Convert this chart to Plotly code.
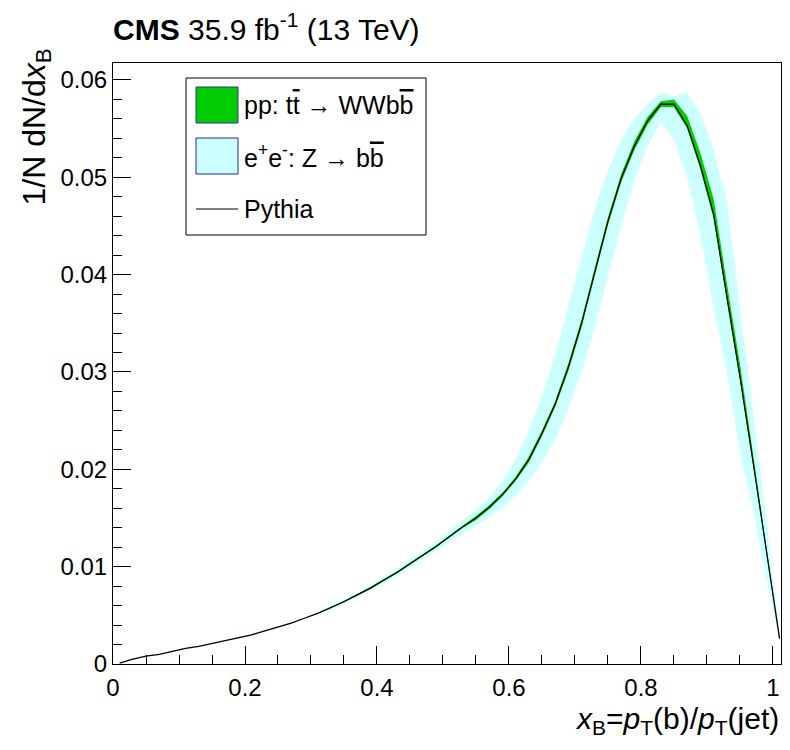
import plotly.graph_objects as go

# bin centres of x_B
x_b = [0.01, 0.03, 0.05, 0.07, 0.09, 0.11, 0.13, 0.15, 0.17, 0.19,
       0.21, 0.23, 0.25, 0.27, 0.29, 0.31, 0.33, 0.35, 0.37, 0.39,
       0.41, 0.43, 0.45, 0.47, 0.49, 0.51, 0.53, 0.55, 0.57, 0.59,
       0.61, 0.63, 0.65, 0.67, 0.69, 0.71, 0.73, 0.75, 0.77, 0.79,
       0.81, 0.83, 0.85, 0.87, 0.89, 0.91, 0.93, 0.95, 0.97, 0.99, 1.01]

# Pythia central curve
pythia = [0.0001, 0.0005, 0.0008, 0.0010, 0.0013, 0.0016, 0.0018, 0.0021, 0.0024, 0.0027,
          0.0030, 0.0034, 0.0038, 0.0042, 0.0047, 0.0052, 0.0058, 0.0064, 0.0071, 0.0078,
          0.0086, 0.0094, 0.0103, 0.0112, 0.0121, 0.0131, 0.0141, 0.0150, 0.0161, 0.0174,
          0.0190, 0.0210, 0.0237, 0.0267, 0.0305, 0.0350, 0.0403, 0.0455, 0.0499, 0.0532,
          0.0558, 0.0575, 0.0575, 0.0553, 0.0512, 0.0462, 0.0378, 0.0295, 0.0207, 0.0117, 0.0026]

# pp: ttbar -> WWbb band (low / high edges)
pp_lo = [0.0001, 0.0005, 0.0008, 0.0010, 0.0013, 0.0016, 0.0018, 0.0021, 0.0024, 0.0027,
         0.0030, 0.0034, 0.0038, 0.0042, 0.0047, 0.0052, 0.0058, 0.0064, 0.0070, 0.0077,
         0.0085, 0.0093, 0.0102, 0.0111, 0.0120, 0.0130, 0.0140, 0.0148, 0.0159, 0.0172,
         0.0188, 0.0207, 0.0234, 0.0264, 0.0301, 0.0346, 0.0399, 0.0451, 0.0495, 0.0528,
         0.0554, 0.0572, 0.0572, 0.0550, 0.0508, 0.0458, 0.0374, 0.0292, 0.0204, 0.0115, 0.0025]
pp_hi = [0.0001, 0.0005, 0.0008, 0.0010, 0.0013, 0.0016, 0.0018, 0.0021, 0.0024, 0.0027,
         0.0030, 0.0034, 0.0038, 0.0042, 0.0047, 0.0052, 0.0058, 0.0064, 0.0072, 0.0079,
         0.0087, 0.0095, 0.0104, 0.0113, 0.0122, 0.0132, 0.0142, 0.0152, 0.0163, 0.0176,
         0.0192, 0.0213, 0.0240, 0.0270, 0.0309, 0.0354, 0.0407, 0.0459, 0.0503, 0.0537,
         0.0562, 0.0578, 0.0580, 0.0563, 0.0525, 0.0478, 0.0392, 0.0308, 0.0215, 0.0121, 0.0027]

# e+e-: Z -> bb band (low / high edges)
ee_lo = [0.0001, 0.0005, 0.0008, 0.0010, 0.0013, 0.0016, 0.0018, 0.0021, 0.0024, 0.0026,
         0.0029, 0.0033, 0.0037, 0.0041, 0.0046, 0.0051, 0.0056, 0.0062, 0.0069, 0.0076,
         0.0083, 0.0091, 0.0099, 0.0108, 0.0116, 0.0125, 0.0134, 0.0142, 0.0151, 0.0160,
         0.0173, 0.0188, 0.0207, 0.0231, 0.0262, 0.0300, 0.0345, 0.0398, 0.0450, 0.0497,
         0.0532, 0.0557, 0.0538, 0.0500, 0.0440, 0.0366, 0.0300, 0.0219, 0.0157, 0.0088, 0.0025]
ee_hi = [0.0001, 0.0005, 0.0008, 0.0010, 0.0013, 0.0016, 0.0018, 0.0021, 0.0024, 0.0028,
         0.0031, 0.0035, 0.0039, 0.0043, 0.0048, 0.0053, 0.0060, 0.0066, 0.0073, 0.0080,
         0.0089, 0.0097, 0.0107, 0.0116, 0.0126, 0.0137, 0.0148, 0.0158, 0.0171, 0.0188,
         0.0210, 0.0240, 0.0275, 0.0318, 0.0368, 0.0420, 0.0468, 0.0507, 0.0538, 0.0560,
         0.0575, 0.0587, 0.0583, 0.0587, 0.0566, 0.0528, 0.0477, 0.0367, 0.0257, 0.0150, 0.0029]

x_tickvals = [0, 0.2, 0.4, 0.6, 0.8, 1.0]
x_ticktext = ["0", "0.2", "0.4", "0.6", "0.8", "1"]
y_tickvals = [0, 0.01, 0.02, 0.03, 0.04, 0.05, 0.06]
y_ticktext = ["0", "0.01", "0.02", "0.03", "0.04", "0.05", "0.06"]

legend_labels = [
    'pp: t<span style="text-decoration:overline">t</span> \u2192 WWb<span style="text-decoration:overline">b</span>',
    'e<sup>+</sup>e<sup>-</sup>: Z \u2192 b<span style="text-decoration:overline">b</span>',
    'Pythia',
]

GREEN = "#00cc00"
CYAN = "#ccffff"
FONT = "Liberation Sans, Arial, sans-serif"

fig = go.Figure()
fig.add_trace(go.Scatter(
    x=x_b + x_b[::-1], y=ee_hi + ee_lo[::-1], fill="toself",
    fillcolor=CYAN, line=dict(width=0, color=CYAN), mode="lines",
    hoverinfo="skip", showlegend=False))
fig.add_trace(go.Scatter(
    x=x_b + x_b[::-1], y=pp_hi + pp_lo[::-1], fill="toself",
    fillcolor=GREEN, line=dict(width=0, color=GREEN), mode="lines",
    hoverinfo="skip", showlegend=False))
fig.add_trace(go.Scatter(
    x=x_b, y=pythia, mode="lines", line=dict(color="black", width=1.3),
    showlegend=False))

axis_common = dict(
    showline=True, mirror=True, linecolor="black", linewidth=1,
    ticks="inside", tickcolor="black", tickwidth=1, ticklen=18,
    showgrid=False, zeroline=False, automargin=False,
    tickfont=dict(size=24, color="black", family=FONT),
)

# page is shown with an 8px body margin; keep the page free of scrollbars
OFF = 8
W, H = 790 - 2 * OFF, 730
L, R, T, B = 105, 1, 55, 74
pw = W - L - R
ph = H - T - B

# keep x=1 at the same place as the reference while the frame ends 2px earlier
x_max = 1.0167 * pw / 671.0

fig.update_xaxes(range=[0, x_max], tickmode="array", tickvals=x_tickvals,
                 ticktext=x_ticktext,
                 minor=dict(tickmode="linear", tick0=0, dtick=0.05, ticks="inside",
                            ticklen=9, tickcolor="black", tickwidth=1, showgrid=False),
                 ticklabelstandoff=2, **axis_common)
fig.update_yaxes(range=[0, 0.06174], tickmode="array", tickvals=y_tickvals,
                 ticktext=y_ticktext,
                 minor=dict(tickmode="linear", tick0=0, dtick=0.002, ticks="inside",
                            ticklen=9, tickcolor="black", tickwidth=1, showgrid=False),
                 ticklabelstandoff=0, **axis_common)


def px(xp):
    return (xp - OFF - L) / pw


def py(yp):
    return (H - B - (yp - OFF)) / ph


shapes = []
shapes.append(dict(type="rect", xref="paper", yref="paper",
                   x0=px(186), x1=px(426), y0=py(235), y1=py(78),
                   line=dict(color="black", width=1), fillcolor="white"))
shapes.append(dict(type="rect", xref="paper", yref="paper",
                   x0=px(196), x1=px(238), y0=py(123), y1=py(87),
                   line=dict(color="#333388", width=1), fillcolor=GREEN))
shapes.append(dict(type="rect", xref="paper", yref="paper",
                   x0=px(196), x1=px(238), y0=py(174), y1=py(138),
                   line=dict(color="#2222bb", width=1), fillcolor=CYAN))
shapes.append(dict(type="line", xref="paper", yref="paper",
                   x0=px(196), x1=px(238), y0=py(209), y1=py(209),
                   line=dict(color="black", width=1)))

annotations = []
for lab, yc in zip(legend_labels, [105, 156, 209]):
    annotations.append(dict(text=lab, xref="paper", yref="paper", x=px(242), y=py(yc),
                            xanchor="left", yanchor="middle", showarrow=False,
                            font=dict(size=25, color="black", family=FONT)))
annotations.append(dict(text="<b>CMS</b> 35.9 fb<sup>-1</sup> (13 TeV)",
                        xref="paper", yref="paper", x=px(111), y=py(27),
                        xanchor="left", yanchor="middle", showarrow=False,
                        font=dict(size=30, color="black", family=FONT)))
annotations.append(dict(text="<i>x</i><sub>B</sub>=<i>p</i><sub>T</sub>(b)/<i>p</i><sub>T</sub>(jet)",
                        xref="paper", yref="paper", x=px(781), y=py(720),
                        xanchor="right", yanchor="middle", showarrow=False,
                        font=dict(size=30, color="black", family=FONT)))
annotations.append(dict(text="1/N dN/d<i>x</i><sub>B</sub>",
                        xref="paper", yref="paper", x=px(36), y=py(47),
                        xanchor="center", yanchor="top", textangle=-90, showarrow=False,
                        font=dict(size=32, color="black", family=FONT)))

fig.update_layout(
    width=W, height=H,
    margin=dict(l=L, r=R, t=T, b=B, autoexpand=False),
    paper_bgcolor="white", plot_bgcolor="white",
    font=dict(family=FONT, color="black"),
    showlegend=False,
    shapes=shapes, annotations=annotations,
)

fig.write_html("out.html")
